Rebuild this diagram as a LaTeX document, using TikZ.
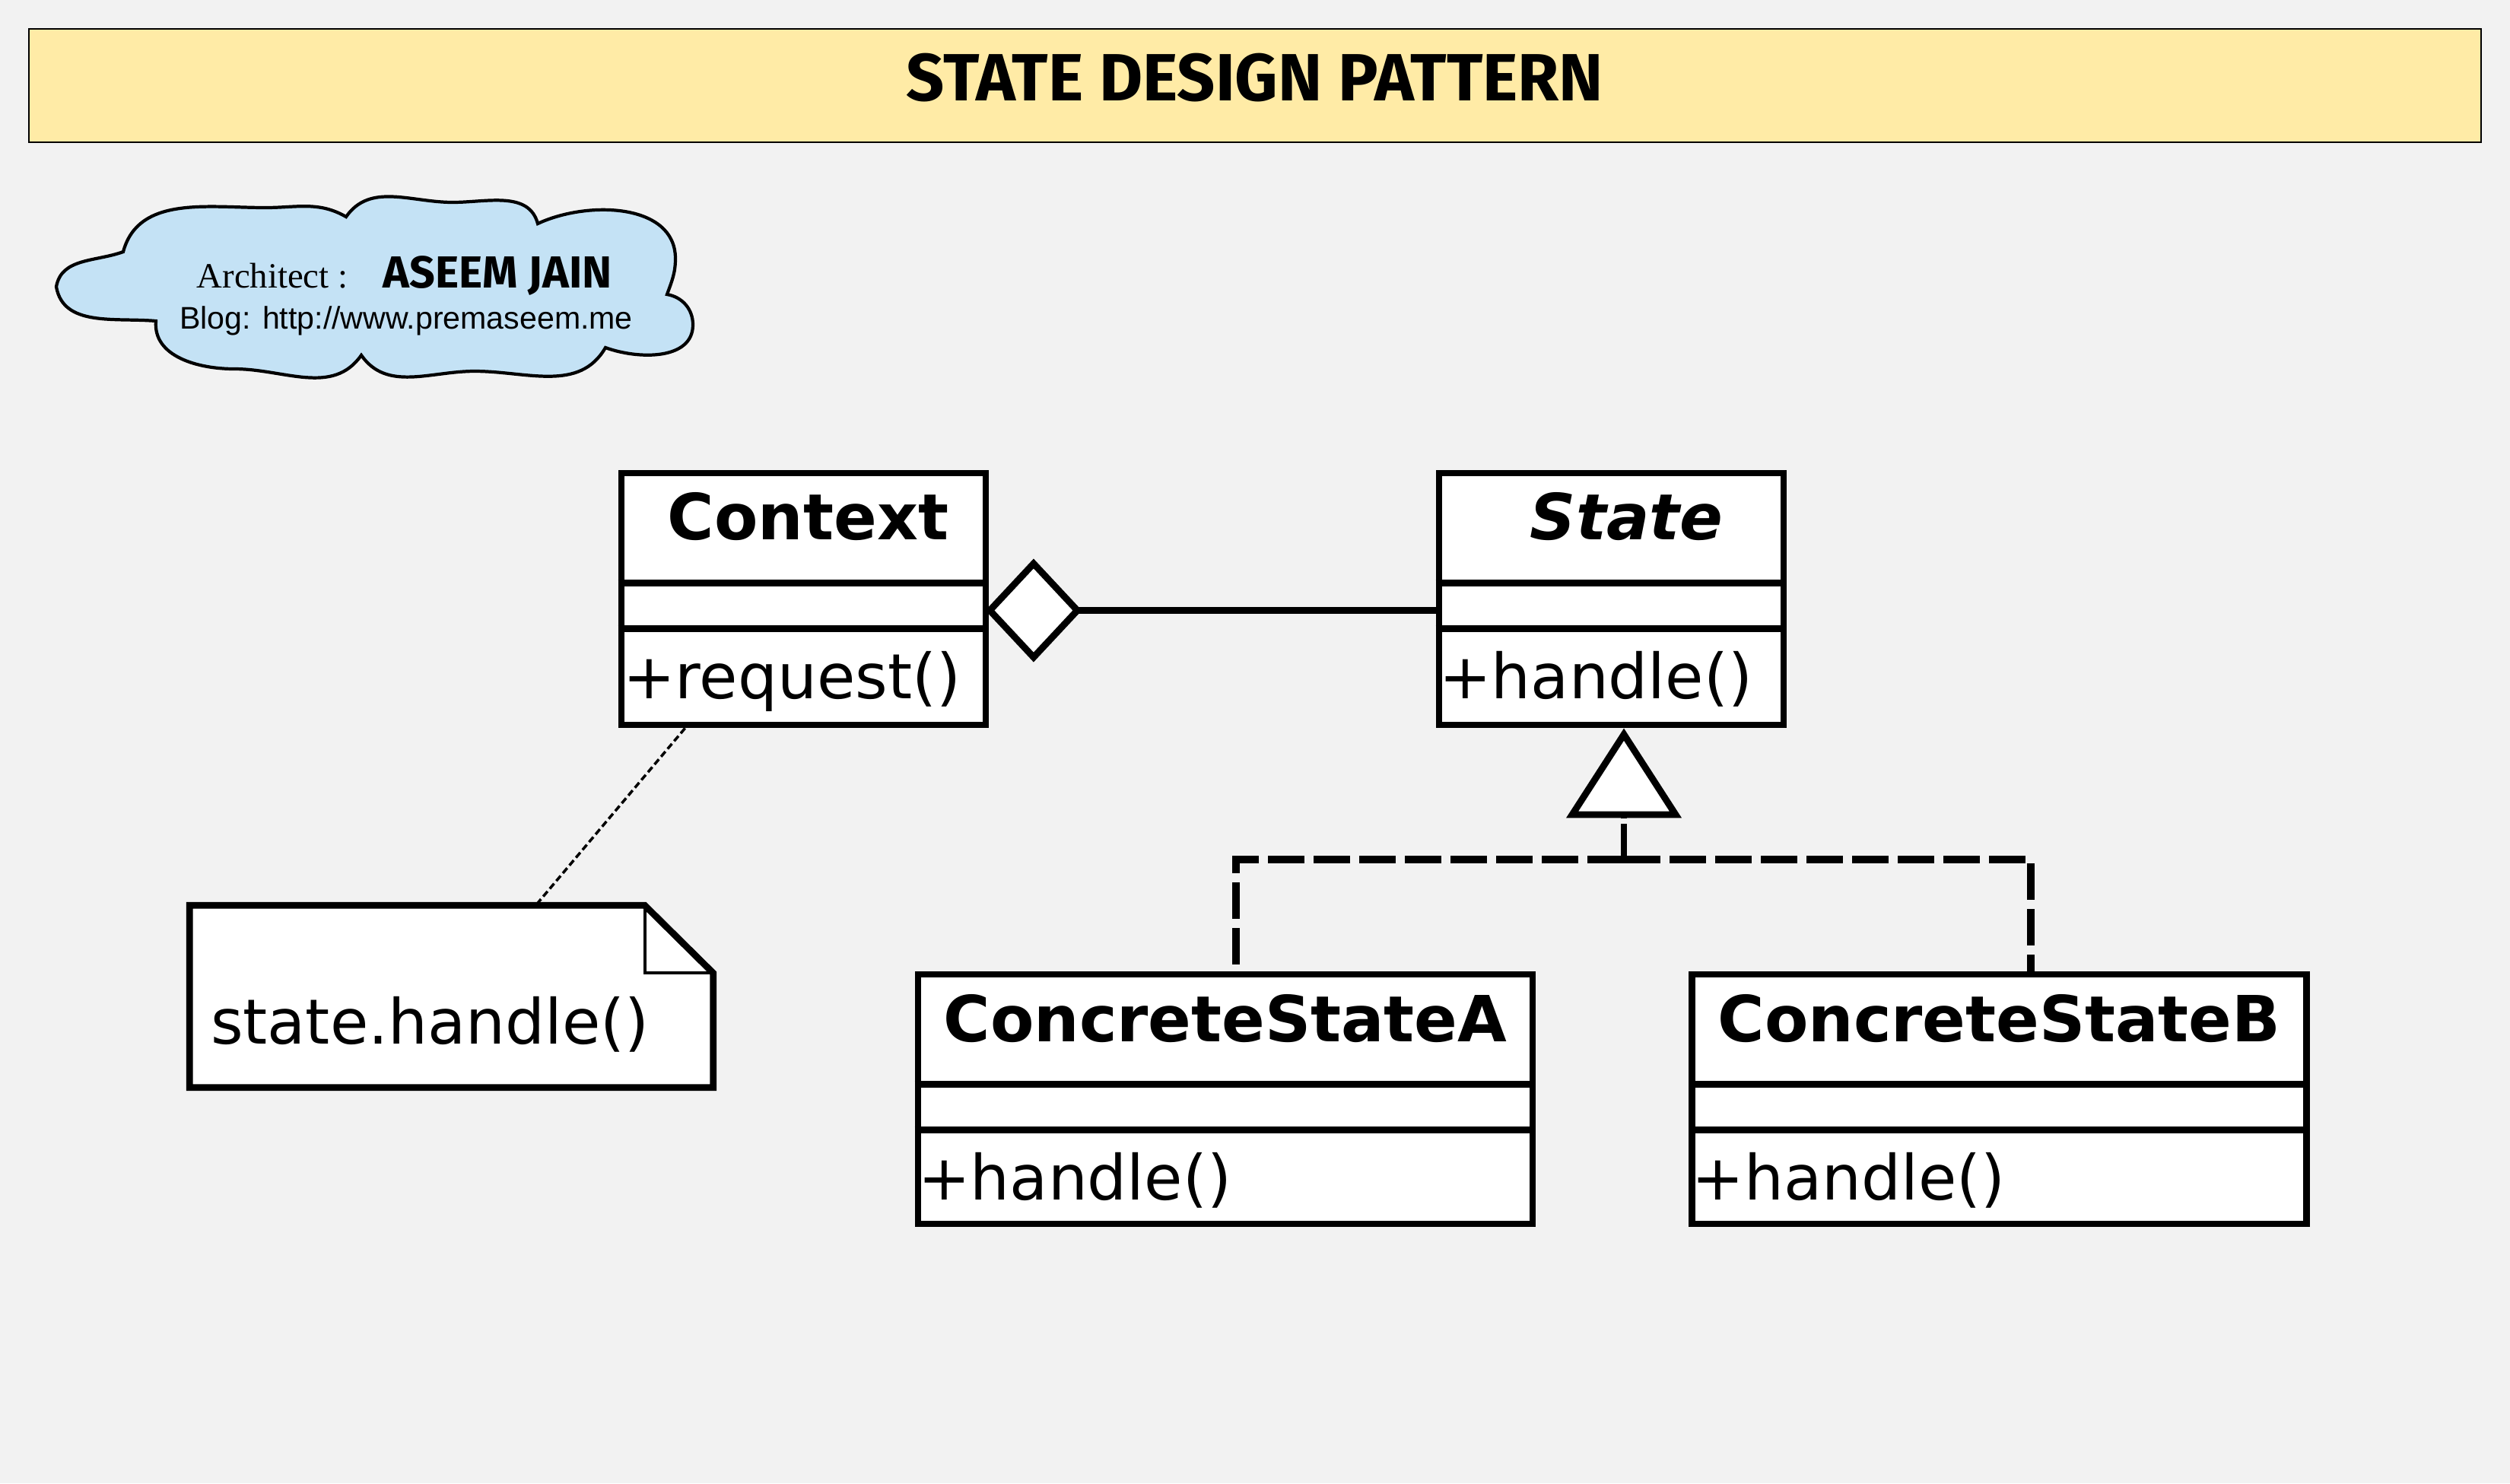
\documentclass[tikz,border=0pt]{standalone}
\usepackage{fontspec}
\setmainfont{DejaVu Sans}
\newfontfamily\titlefont{Fira Sans}
\newfontfamily\timesfont{Liberation Serif}
\newfontfamily\arialfont{Liberation Sans}
\usetikzlibrary{arrows.meta}

\definecolor{bgcol}{RGB}{242,242,242}
\definecolor{titlecol}{RGB}{255,235,166}
\definecolor{cloudcol}{RGB}{196,226,245}

\tikzset{
    classbox/.style={draw, line width=2.5pt, fill=white, inner sep=0pt},
    classname/.style={font=\fontsize{23.8}{28}\selectfont\bfseries, inner sep=0pt, anchor=base},
    classop/.style={font=\fontsize{23.3}{28}\selectfont, inner sep=0pt, anchor=base west},
    divider/.style={line width=2.5pt},
    realize/.style={line width=2.6pt, dash pattern=on 0.48cm off 0.12cm},
    noteline/.style={line width=1pt, dash pattern=on 2.5pt off 1.3pt},
}

\begin{document}
\begin{tikzpicture}
            \useasboundingbox (0,0) rectangle (33,-19.5);
            \fill[bgcol] (0,0) rectangle (33,-19.5);

            % Title bar
            \node[draw, line width=0.8pt, fill=titlecol, minimum width=32.24cm, minimum height=1.49cm] (title) at (16.5,-1.125) {};
            \node[font=\titlefont\fontsize{25}{30}\selectfont\bfseries] (titletext) at (16.5,-1.02) {STATE DESIGN PATTERN};

            % Cloud with the author
            \draw[line width=1.2pt, fill=cloudcol] (0.74,-3.77) to[out=80,in=200] (1.62,-3.31)
                to[out=75,in=180] (3.49,-2.73) to[out=0,in=150] (4.55,-2.85)
                to[out=55,in=180] (5.95,-2.66) to[out=0,in=105] (7.07,-2.94)
                to[out=25,in=90] (8.88,-3.40) to[out=-90,in=70] (8.77,-3.87)
                to[out=-10,in=90] (9.11,-4.27) to[out=-90,in=-20] (7.96,-4.57)
                to[out=240,in=0] (6.24,-4.88) to[out=180,in=-55] (4.75,-4.67)
                to[out=235,in=0] (3.08,-4.85) to[out=180,in=-95] (2.05,-4.22)
                to[out=175,in=-80] cycle;
            \node[font=\timesfont\fontsize{13.3}{16}\selectfont, anchor=base west, inner sep=0pt] (archlabel) at (2.58,-3.78) {Architect :};
            \node[font=\titlefont\fontsize{16.8}{20}\selectfont\bfseries, anchor=base west, inner sep=0pt] (archname) at (5.03,-3.78) {ASEEM JAIN};
            \node[font=\arialfont\fontsize{11.7}{14}\selectfont, anchor=base, inner sep=0pt] (blog) at (5.34,-4.32) {Blog: http://www.premaseem.me};

            % Classes
            \node[classbox, minimum width=4.79cm, minimum height=3.31cm] (context) at (10.565,-7.875) {};
            \node[classbox, minimum width=4.53cm, minimum height=3.31cm] (state) at (21.185,-7.875) {};
            \node[classbox, minimum width=8.08cm, minimum height=3.28cm] (csa) at (16.11,-14.45) {};
            \node[classbox, minimum width=8.08cm, minimum height=3.28cm] (csb) at (26.285,-14.45) {};
            \foreach \c in {context,state,csa,csb} {
                \draw[divider] ([yshift=-1.49cm]\c.north west) -- ([yshift=-1.49cm]\c.north east);
                \draw[divider] ([yshift=-2.09cm]\c.north west) -- ([yshift=-2.09cm]\c.north east);
            }
            \node[classname] (contextname) at ([xshift=0.06cm,yshift=-0.92cm]context.north) {Context};
            \node[classname] (statename) at ([xshift=0.2cm,yshift=-0.92cm]state.north) {\itshape State};
            \node[classname] (csaname) at ([yshift=-0.93cm]csa.north) {ConcreteStateA};
            \node[classname] (csbname) at ([yshift=-0.93cm]csb.north) {ConcreteStateB};
            \node[classop] (contextop) at ([xshift=0.06cm,yshift=-3.01cm]context.north west) {+request()};
            \node[classop] (stateop) at ([xshift=0.04cm,yshift=-3.01cm]state.north west) {+handle()};
            \node[classop] (csaop) at ([xshift=0.04cm,yshift=-3.01cm]csa.north west) {+handle()};
            \node[classop] (csbop) at ([xshift=0.04cm,yshift=-3.01cm]csb.north west) {+handle()};

            % Aggregation
            \draw[line width=2.5pt, {Diamond[fill=white, length=1.27cm, width=1.36cm]}-] ([xshift=-0.05cm,yshift=-0.15cm]context.east) -- ([yshift=-0.15cm]state.west);

            % Realization
            \coordinate (fork) at (21.35,-11.30);
            \draw[line width=2.5pt, -{Triangle[fill=white, length=1.18cm, width=1.5cm]}] ([yshift=-1.19cm]fork |- state.south) -- (fork |- state.south);
            \draw[line width=2.5pt] (fork) -- ([yshift=0.47cm]fork);
            \draw[realize] (fork) -| ([xshift=0.14cm]csa.north);
            \draw[realize] (fork) -| ([xshift=0.415cm]csb.north);

            % Note
            \node[minimum width=6.87cm, minimum height=2.38cm, inner sep=0pt] (note) at (5.935,-13.10) {};
            \draw[line width=2.5pt, fill=white] (note.north west) -- ([xshift=-0.9cm]note.north east) -- ([yshift=-0.89cm]note.north east) -- (note.south east) -- (note.south west) -- cycle;
            \draw[line width=1.2pt] ([xshift=-0.9cm]note.north east) -- ([xshift=-0.9cm,yshift=-0.89cm]note.north east) -- ([yshift=-0.89cm]note.north east);
            \node[classop] (notetext) at ([xshift=0.27cm,yshift=-1.82cm]note.north west) {state.handle()};
            \draw[noteline] ([xshift=0.88cm]context.south west) -- ([xshift=4.55cm]note.north west);
\end{tikzpicture}
\end{document}
